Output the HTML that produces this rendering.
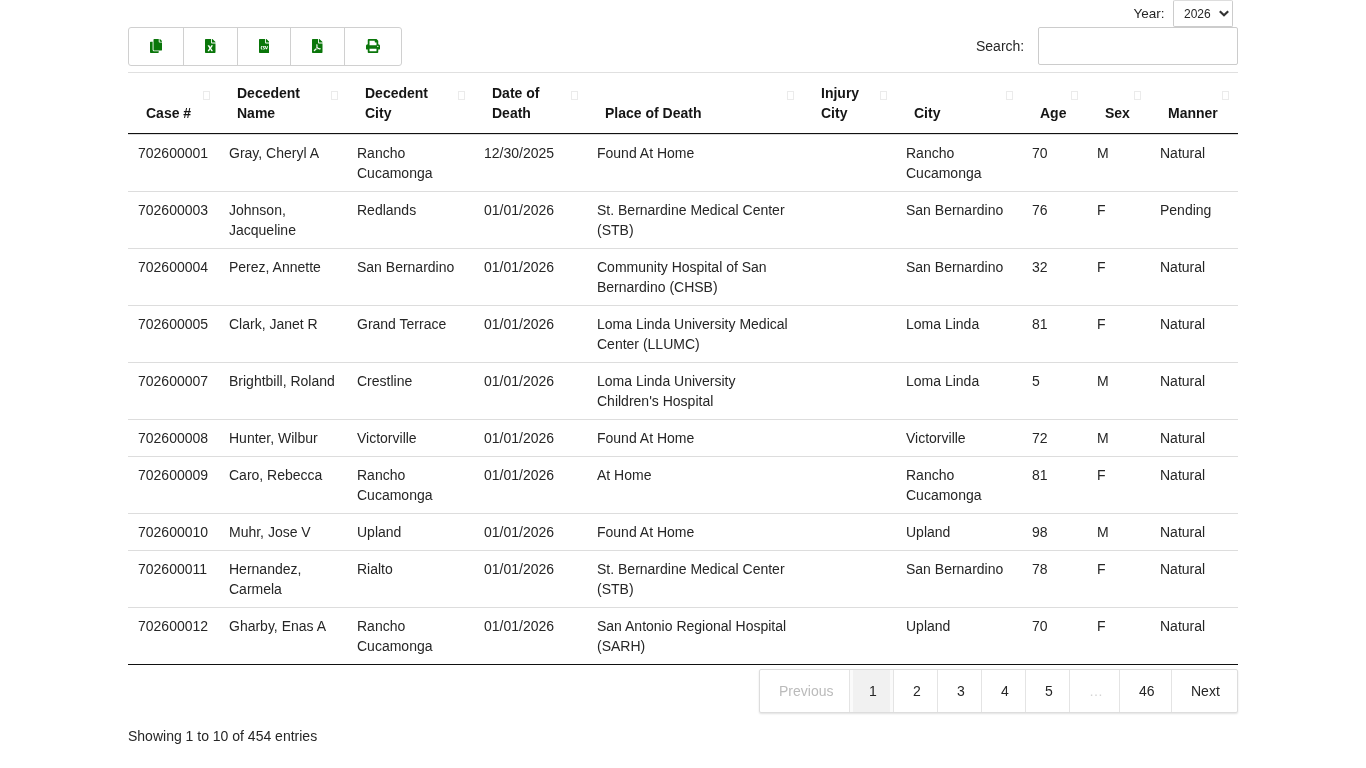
<!DOCTYPE html>
<html><head><meta charset="utf-8"><title>Cases</title>
<style>
*{box-sizing:border-box;margin:0;padding:0}
html{background:#fff}html,body{width:1366px;height:768px;overflow:hidden}
body{will-change:transform;font-family:"Liberation Sans",sans-serif;font-size:14px;line-height:20px;color:#262626;position:relative}
.abs{position:absolute}
#year{left:1134px;top:0;height:27px;}
#yearlbl{position:absolute;left:1133.5px;top:4px;font-size:13.5px;color:#262626;white-space:nowrap}
#yearsel{position:absolute;left:1173px;top:0;width:60px;height:27px;border:1px solid #ccc;border-top-color:#ddd;border-radius:2px;background:#fff}
#yearsel span{position:absolute;left:10px;top:3px;font-size:12px;color:#262626}
#yearsel svg{position:absolute;left:45px;top:8.5px}
#btns{position:absolute;left:128px;top:27px;width:274px;height:39px;border:1px solid #d0d0d0;border-radius:3px;background:#fff;display:flex}
#btns div{height:37px;border-left:1px solid #d0d0d0;position:relative}
#btns div:first-child{border-left:none}
#btns svg{display:block;margin:11px auto 0}
#searchlbl{position:absolute;left:976px;top:36px;white-space:nowrap}
#search{position:absolute;left:1038px;top:27px;width:200px;height:38px;border:1px solid #ccc;border-radius:2px;background:#fff}
table{position:absolute;left:128px;top:72px;width:1110px;border-collapse:separate;border-spacing:0;table-layout:fixed;border-bottom:1px solid #111}
th{font-weight:bold;text-align:left;vertical-align:bottom;padding:10px 18px;border-top:1px solid #e0e0e0;border-bottom:1px solid #111;color:#151515;position:relative}
th i{position:absolute;right:9px;top:18px;width:7px;height:9px;border:1px solid #ebebeb}
td{padding:8px 10px;border-top:1px solid #ddd;vertical-align:top}
#pager{position:absolute;left:759px;top:669px;width:479px;height:44px;border:1px solid #ddd;border-radius:2px;display:flex;box-shadow:0 1px 2px rgba(0,0,0,.12);background:#fff}
#pager span{display:block;height:42px;padding:11px 0 0 19px;border-left:1px solid #e4e4e4;color:#262626;white-space:nowrap}
#pager span.cur{background:#f1f1f1;box-shadow:inset 3px 0 #fafafa,inset -3px 0 #fafafa}
#pager span:first-child{border-left:none;padding-left:19px}
#info{position:absolute;left:128px;top:726px;white-space:nowrap}
</style></head><body>
<div id="yearlbl">Year:</div>
<div id="yearsel"><span>2026</span><svg width="10" height="7" viewBox="0 0 10 7"><path d="M0.8 1.3L5 5.3L9.2 1.3" fill="none" stroke="#333" stroke-width="2.2"/></svg></div>

<div id="btns">
 <div style="width:54px"><svg width="12.25" height="14" viewBox="0 0 448 512"><path fill="#0a760a" d="M320 448v40c0 13.255-10.745 24-24 24H24c-13.255 0-24-10.745-24-24V120c0-13.255 10.745-24 24-24h72v296c0 30.879 25.121 56 56 56h168zm0-344V0H152c-13.255 0-24 10.745-24 24v368c0 13.255 10.745 24 24 24h272c13.255 0 24-10.745 24-24V128H344c-13.2 0-24-10.8-24-24zm120.971-31.029L375.029 7.029A24 24 0 0 0 358.059 0H352v96h96v-6.059a24 24 0 0 0-7.029-16.97z"/></svg></div>
 <div style="width:54px"><svg width="10.5" height="14" viewBox="0 0 384 512"><path fill="#0a760a" d="M224 136V0H24C10.7 0 0 10.7 0 24v464c0 13.3 10.7 24 24 24h336c13.3 0 24-10.7 24-24V160H248c-13.2 0-24-10.8-24-24zm60.1 106.5L224 336l60.1 93.5c5.1 8-.6 18.5-10.1 18.5h-34.9c-4.4 0-8.5-2.4-10.6-6.3C208.9 405.5 192 373 192 373c-6.4 14.8-10 20-36.6 68.8-2.1 3.9-6.1 6.3-10.5 6.3H110c-9.5 0-15.2-10.5-10.1-18.5l60.3-93.5-60.3-93.5c-5.2-8 .6-18.5 10.1-18.5h34.8c4.4 0 8.5 2.4 10.6 6.3 26.1 48.8 20 33.6 36.6 68.5 0 0 6.1-11.7 36.6-68.5 2.1-3.9 6.2-6.3 10.6-6.3H274c9.5-.1 15.2 10.4 10.1 18.4zM384 121.9v6.1H256V0h6.1c6.4 0 12.5 2.5 17 7l97.9 98c4.5 4.5 7 10.6 7 16.9z"/></svg></div>
 <div style="width:53px"><svg width="10.5" height="14" viewBox="0 0 384 512"><path fill="#0a760a" d="M224 136V0H24C10.7 0 0 10.7 0 24v464c0 13.3 10.7 24 24 24h336c13.3 0 24-10.7 24-24V160H248c-13.2 0-24-10.8-24-24zm-96 144c0 4.42-3.58 8-8 8h-8c-8.84 0-16 7.16-16 16v32c0 8.84 7.16 16 16 16h8c4.42 0 8 3.58 8 8v16c0 4.420-3.58 8-8 8h-8c-26.51 0-48-21.49-48-48v-32c0-26.51 21.49-48 48-48h8c4.42 0 8 3.58 8 8v16zm44.27 104H160c-4.42 0-8-3.58-8-8v-16c0-4.42 3.58-8 8-8h12.27c5.95 0 10.41-3.5 10.41-6.620 0-1.3-.75-2.66-2.12-3.84l-21.89-18.77c-8.47-7.22-13.33-17.48-13.33-28.14 0-21.3 19.02-38.62 42.41-38.62H200c4.42 0 8 3.58 8 8v16c0 4.42-3.58 8-8 8h-12.27c-5.95 0-10.41 3.5-10.41 6.62 0 1.3.75 2.66 2.12 3.84l21.89 18.77c8.47 7.22 13.33 17.48 13.33 28.14.01 21.29-19 38.62-42.39 38.62zM256 264v20.8c0 20.27 5.7 40.17 16 56.88 10.3-16.7 16-36.61 16-56.88V264c0-4.42 3.58-8 8-8h16c4.42 0 8 3.58 8 8v20.8c0 35.48-12.88 68.89-36.28 94.09-3.02 3.25-7.270 5.11-11.72 5.11s-8.7-1.86-11.72-5.11c-23.4-25.2-36.28-58.61-36.28-94.09V264c0-4.42 3.58-8 8-8h16c4.42 0 8 3.58 8 8zm121-159L279.1 7c-4.5-4.5-10.6-7-17-7H256v128h128v-6.1c0-6.3-2.5-12.4-7-16.9z"/></svg></div>
 <div style="width:54px"><svg width="10.5" height="14" viewBox="0 0 384 512"><path fill="#0a760a" d="M181.9 256.1c-5-16-4.9-46.9-2-46.9 8.4 0 7.6 36.9 2 46.9zm-1.7 47.2c-7.7 20.2-17.3 43.3-28.4 62.7 18.3-7 39-17.2 62.9-21.9-12.7-9.6-24.9-23.4-34.5-40.8zM86.1 428.1c0 .8 13.2-5.4 34.9-40.2-6.7 6.3-29.1 24.5-34.9 40.2zM248 160h136v328c0 13.3-10.7 24-24 24H24c-13.3 0-24-10.7-24-24V24C0 10.7 10.7 0 24 0h200v136c0 13.2 10.8 24 24 24zm-8 171.8c-20-12.2-33.3-29-42.7-53.8 4.5-18.5 11.6-46.6 6.2-64.2-4.7-29.4-42.4-26.5-47.8-6.8-5 18.3-.4 44.1 8.1 77-11.6 27.6-28.7 64.6-40.8 85.8-.1 0-.1.1-.2.1-27.1 13.9-73.6 44.5-54.5 68 5.6 6.9 16 10 21.5 10 17.900 0 35.7-18 61.1-61.8 25.8-8.5 54.1-19.1 79-23.2 21.7 11.8 47.1 19.5 64 19.5 29.2 0 31.2-32 19.7-43.4-13.9-13.6-54.3-9.7-73.6-7.2zM377 105L279 7c-4.5-4.5-10.6-7-17-7h-6v128h128v-6.1c0-6.3-2.5-12.4-7-16.9zm-74.1 255.3c4.1-2.7-2.5-11.9-42.8-9 37.1 15.8 42.8 9 42.8 9z"/></svg></div>
 <div style="width:57px"><svg width="14" height="14" viewBox="0 0 512 512"><path fill="#0a760a" d="M448 192V77.25c0-8.49-3.37-16.62-9.37-22.63L393.37 9.37c-6-6-14.14-9.37-22.63-9.37H96C78.33 0 64 14.33 64 32v160c-35.35 0-64 28.65-64 64v112c0 8.84 7.16 16 16 16h48v96c0 17.67 14.33 32 32 32h320c17.67 0 32-14.33 32-32v-96h48c8.84 0 16-7.16 16-16V256c0-35.35-28.65-64-64-64zm-64 256H128v-96h256v96zm0-224H128V64h192v48c0 8.84 7.16 16 16 16h48v96zm48 72c-13.25 0-24-10.75-24-24 0-13.26 10.75-24 24-24s24 10.74 24 24c0 13.25-10.75 24-24 24z"/></svg></div>
</div>

<div id="searchlbl">Search:</div>
<div id="search"></div>

<table>
<colgroup><col style="width:91px"><col style="width:128px"><col style="width:127px"><col style="width:113px"><col style="width:216px"><col style="width:93px"><col style="width:126px"><col style="width:65px"><col style="width:63px"><col style="width:88px"></colgroup>
<thead><tr>
<th>Case #<i></i></th><th>Decedent<br>Name<i></i></th><th>Decedent<br>City<i></i></th><th>Date of<br>Death<i></i></th><th>Place of Death<i></i></th><th>Injury<br>City<i></i></th><th>City<i></i></th><th>Age<i></i></th><th>Sex<i></i></th><th>Manner<i></i></th>
</tr></thead>
<tbody>
<tr><td>702600001</td><td>Gray, Cheryl A</td><td>Rancho<br>Cucamonga</td><td>12/30/2025</td><td>Found At Home</td><td></td><td>Rancho<br>Cucamonga</td><td>70</td><td>M</td><td>Natural</td></tr>
<tr><td>702600003</td><td>Johnson,<br>Jacqueline</td><td>Redlands</td><td>01/01/2026</td><td>St. Bernardine Medical Center<br>(STB)</td><td></td><td>San Bernardino</td><td>76</td><td>F</td><td>Pending</td></tr>
<tr><td>702600004</td><td>Perez, Annette</td><td>San Bernardino</td><td>01/01/2026</td><td>Community Hospital of San<br>Bernardino (CHSB)</td><td></td><td>San Bernardino</td><td>32</td><td>F</td><td>Natural</td></tr>
<tr><td>702600005</td><td>Clark, Janet R</td><td>Grand Terrace</td><td>01/01/2026</td><td>Loma Linda University Medical<br>Center (LLUMC)</td><td></td><td>Loma Linda</td><td>81</td><td>F</td><td>Natural</td></tr>
<tr><td>702600007</td><td>Brightbill, Roland</td><td>Crestline</td><td>01/01/2026</td><td>Loma Linda University<br>Children's Hospital</td><td></td><td>Loma Linda</td><td>5</td><td>M</td><td>Natural</td></tr>
<tr><td>702600008</td><td>Hunter, Wilbur</td><td>Victorville</td><td>01/01/2026</td><td>Found At Home</td><td></td><td>Victorville</td><td>72</td><td>M</td><td>Natural</td></tr>
<tr><td>702600009</td><td>Caro, Rebecca</td><td>Rancho<br>Cucamonga</td><td>01/01/2026</td><td>At Home</td><td></td><td>Rancho<br>Cucamonga</td><td>81</td><td>F</td><td>Natural</td></tr>
<tr><td>702600010</td><td>Muhr, Jose V</td><td>Upland</td><td>01/01/2026</td><td>Found At Home</td><td></td><td>Upland</td><td>98</td><td>M</td><td>Natural</td></tr>
<tr><td>702600011</td><td>Hernandez,<br>Carmela</td><td>Rialto</td><td>01/01/2026</td><td>St. Bernardine Medical Center<br>(STB)</td><td></td><td>San Bernardino</td><td>78</td><td>F</td><td>Natural</td></tr>
<tr><td>702600012</td><td>Gharby, Enas A</td><td>Rancho<br>Cucamonga</td><td>01/01/2026</td><td>San Antonio Regional Hospital<br>(SARH)</td><td></td><td>Upland</td><td>70</td><td>F</td><td>Natural</td></tr>
</tbody></table>

<div id="pager">
<span style="width:89px;color:#bbb">Previous</span><span class="cur" style="width:44px">1</span><span style="width:44px">2</span><span style="width:44px">3</span><span style="width:44px">4</span><span style="width:44px">5</span><span style="width:50px;color:#d4d4d4">…</span><span style="width:52px">46</span><span style="width:66px">Next</span>
</div>

<div id="info">Showing 1 to 10 of 454 entries</div>
</body></html>
